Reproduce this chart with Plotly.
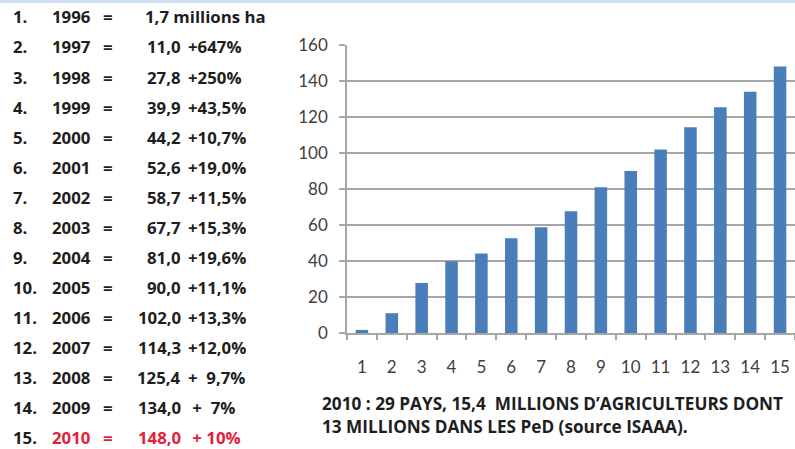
import plotly.graph_objects as go

# ---- data ----
ranks = [f"{i}." for i in range(1, 16)]
years = [1996, 1997, 1998, 1999, 2000, 2001, 2002, 2003, 2004, 2005, 2006, 2007, 2008, 2009, 2010]
values = [1.7, 11.0, 27.8, 39.9, 44.2, 52.6, 58.7, 67.7, 81.0, 90.0, 102.0, 114.3, 125.4, 134.0, 148.0]
growth = ["", "+647%", "+250%", "+43,5%", "+10,7%", "+19,0%", "+11,5%", "+15,3%", "+19,6%",
          "+11,1%", "+13,3%", "+12,0%", "+\u00a0\u00a09,7%", "\u00a0+\u00a0\u00a07%", "\u00a0+\u00a010%"]
categories = [str(i) for i in range(1, 16)]
y_ticks = [0, 20, 40, 60, 80, 100, 120, 140, 160]
note_lines = ["2010 : 29 PAYS, 15,4\u00a0\u00a0MILLIONS D\u2019AGRICULTEURS DONT",
              "13 MILLIONS DANS LES PeD (source ISAAA)."]

W, H = 795, 449
L, R, T, B = 347, 0, 45, 116
PW, PH = W - L - R, H - T - B

def px(x):
    return (x - L) / PW

def py(y):
    return (H - B - y) / PH

FONT = "Lato"
TFONT = "Open Sans"
BAR = "#4a7ebb"
GRID = "#a6a6a6"
DARK = "#1e1e1e"
RED = "#e3203b"

fig = go.Figure(go.Bar(x=categories, y=values, marker=dict(color=BAR, line=dict(width=0)),
                       width=0.42, hoverinfo="skip"))

ann = []
row_y0, row_dy = 17, 30
for i in range(15):
    yy = py(row_y0 + i * row_dy)
    col = RED if i == 14 else DARK
    f = dict(family=TFONT, size=16.8, color=col, weight="bold")
    ann.append(dict(x=px(11), y=yy, text=ranks[i], xanchor="left", yanchor="middle",
                    font=dict(family=TFONT, size=16.8, color=DARK, weight="bold")))
    ann.append(dict(x=px(50), y=yy, text=str(years[i]), xanchor="left", yanchor="middle", font=f))
    ann.append(dict(x=px(101), y=yy, text="=", xanchor="left", yanchor="middle", font=f))
    if i == 0:
        ann.append(dict(x=px(143), y=yy, text=f"{values[i]:.1f}".replace(".", ",") + " millions ha",
                        xanchor="left", yanchor="middle", font=f))
    else:
        ann.append(dict(x=px(183), y=yy, text=f"{values[i]:.1f}".replace(".", ","),
                        xanchor="right", yanchor="middle", font=f))
        ann.append(dict(x=px(186), y=yy, text=growth[i], xanchor="left", yanchor="middle", font=f))

for j, line in enumerate(note_lines):
    ann.append(dict(x=px(320), y=py(403 + j * 23), text=line, xanchor="left", yanchor="middle",
                    font=dict(family=TFONT, size=17.2, color=DARK, weight="bold")))

for a in ann:
    a.update(xref="paper", yref="paper", showarrow=False)

fig.update_layout(
    width=W, height=H,
    margin=dict(l=L, r=R, t=T, b=B, pad=0),
    paper_bgcolor="white", plot_bgcolor="white",
    showlegend=False,
    annotations=ann,
    shapes=[dict(type="rect", xref="paper", yref="paper", x0=px(0), x1=px(W), y0=py(0), y1=py(3),
                 fillcolor="#cfdef2", line=dict(width=0), layer="above")],
    xaxis=dict(type="category", range=[-0.5, 14.5], showline=True, linecolor=GRID, linewidth=1.5,
               ticks="outside", tickson="boundaries", ticklen=5, tickcolor=GRID, tickwidth=1.5,
               ticklabelstandoff=18, showgrid=False,
               tickfont=dict(family=FONT, size=17, color="#404040")),
    yaxis=dict(range=[0, 160], tickvals=y_ticks, showgrid=True, gridcolor=GRID, gridwidth=1.5,
               zeroline=False, showline=True, linecolor=GRID, linewidth=1.5,
               ticks="outside", ticklen=6, tickcolor=GRID, tickwidth=1.5, ticklabelstandoff=8,
               tickfont=dict(family=FONT, size=17, color="#404040")),
)

fig.write_html("out.html")
